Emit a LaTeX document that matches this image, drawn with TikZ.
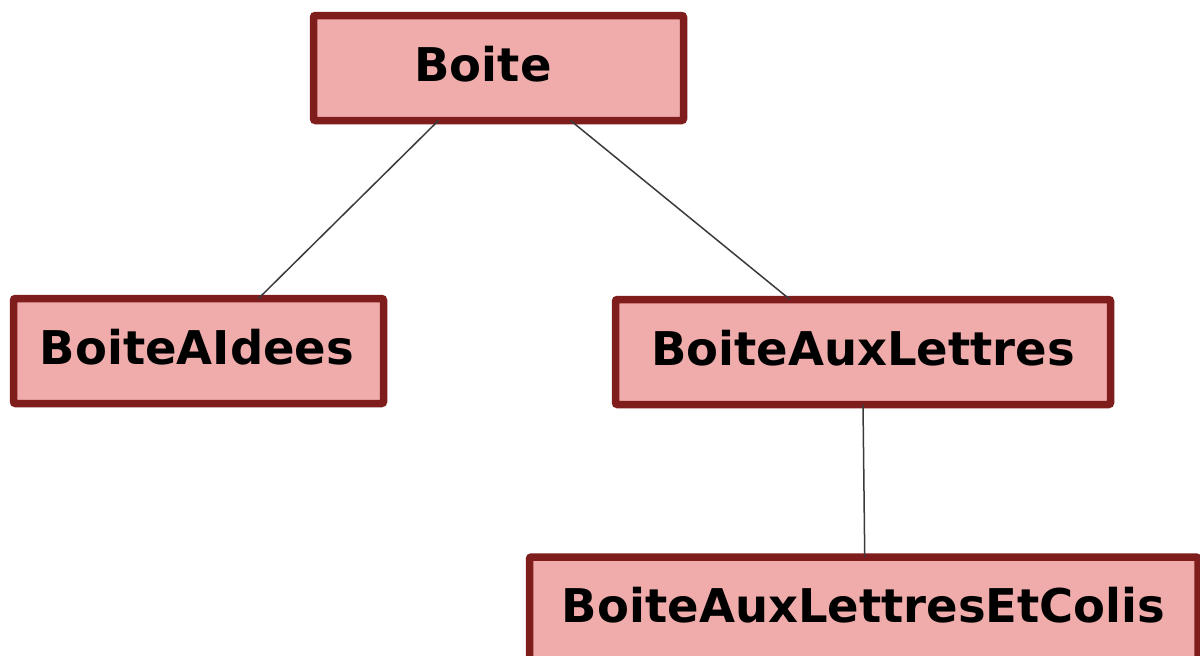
\documentclass[tikz,border=0pt]{standalone}
\usepackage{fontspec}
\setmainfont{DejaVu Sans}
\usetikzlibrary{calc}
\definecolor{boxfill}{HTML}{F0ABAB}
\definecolor{boxdraw}{HTML}{7F1C1C}
\definecolor{linkcol}{HTML}{3A3A3A}
\tikzset{
  classbox/.style={draw=boxdraw, fill=boxfill, line width=7.5pt, rounded corners=2pt,
    minimum height=105pt, inner sep=0pt, outer sep=0pt,
    text height=34pt, text depth=8pt,
    font=\fontsize{46.5pt}{50pt}\selectfont\bfseries},
  link/.style={draw=linkcol, line width=1.5pt}
}
\begin{document}
\begin{tikzpicture}[x=1pt,y=-1pt]
\useasboundingbox (0,0) rectangle (1200,656);
\node[classbox, minimum width=370pt] (boite) at (498.5,68) {Boite\rule{31pt}{0pt}};
\node[classbox, minimum width=370pt] (idees) at (198.5,351) {BoiteAIdees\rule{3pt}{0pt}};
\node[classbox, minimum width=495pt] (lettres) at (863,352) {BoiteAuxLettres};
\node[classbox, minimum width=668.5pt] (colis) at (863.75,609.5) {BoiteAuxLettresEtColis};
\draw[link] ([xshift=-60pt]boite.south) -- ([xshift=60pt]idees.north);
\draw[link] ([xshift=72pt]boite.south) -- ([xshift=-73pt]lettres.north);
\draw[link] (lettres.south) -- ([xshift=1pt]colis.north);
\end{tikzpicture}
\end{document}
